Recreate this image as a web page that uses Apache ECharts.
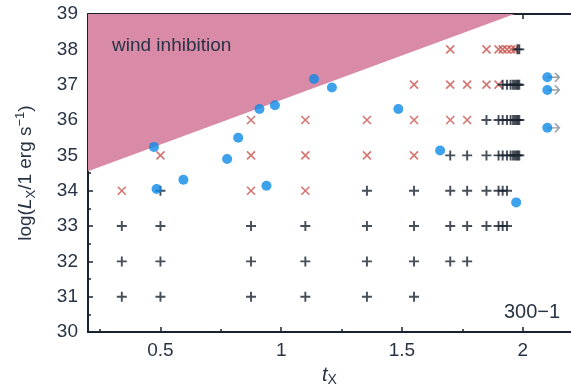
<!DOCTYPE html>
<html>
<head>
<meta charset="utf-8">
<script src="https://cdn.jsdelivr.net/npm/echarts@6/dist/echarts.min.js"></script>
<style>html,body{margin:0;padding:0;background:#fff}#c{width:571px;height:392px}</style>
</head>
<body>
<div id="c"></div>
<script>
// ---- data ----
const xMajorTicks = [0.5, 1, 1.5, 2];
const xMinorTicks = [0.25, 0.75, 1.25, 1.75];
const windBoundary = [[0.2, 34.55], [1.966, 39]];

const plusRows = [
  [31, [0.34, 0.5, 0.875, 1.1, 1.355, 1.55]],
  [32, [0.34, 0.5, 0.875, 1.1, 1.355, 1.55, 1.7, 1.77]],
  [33, [0.34, 0.5, 0.875, 1.1, 1.355, 1.55, 1.7, 1.77, 1.85, 1.9, 1.917, 1.935]],
  [34, [0.5, 1.355, 1.55, 1.7, 1.77, 1.85, 1.9, 1.917, 1.935]],
  [35, [1.7, 1.77, 1.85, 1.9, 1.917, 1.935, 1.95, 1.96, 1.968, 1.975, 1.98, 1.986]],
  [36, [1.85, 1.9, 1.917, 1.935, 1.95, 1.96, 1.968, 1.975, 1.98, 1.986]],
  [37, [1.917, 1.935, 1.95, 1.96, 1.968, 1.975, 1.98, 1.986]],
  [38, [1.978, 1.986]]
];
const crossRows = [
  [34, [0.34, 0.875, 1.1]],
  [35, [0.5, 0.875, 1.1, 1.355, 1.55]],
  [36, [0.875, 1.1, 1.355, 1.55, 1.7, 1.77]],
  [37, [1.55, 1.7, 1.77, 1.85, 1.9]],
  [38, [1.7, 1.85, 1.9, 1.917, 1.935, 1.953, 1.969]]
];
const detections = [
  [0.473, 35.24], [0.484, 34.05], [0.595, 34.31], [0.776, 34.9], [0.822, 35.5],
  [0.91, 36.31], [0.974, 36.42], [0.939, 34.14], [1.136, 37.16], [1.21, 36.92],
  [1.485, 36.31], [1.658, 35.14], [1.973, 33.67]
];
const lowerLimits = [[2.102, 37.21], [2.102, 36.85], [2.102, 35.78]];

// ---- build ----
const flat = rows => rows.flatMap(([y, xs]) => xs.map(x => [x, y]));
const ink = '#18232f';
const txt = '#283445';
const font = '"Liberation Sans", Arial, sans-serif';
const axisLine = {show: true, onZero: false, lineStyle: {color: ink, width: 2}};

const chart = echarts.init(document.getElementById('c'), null, {renderer: 'canvas'});
chart.setOption({
  animation: false,
  backgroundColor: '#fff',
  textStyle: {fontFamily: font},
  grid: {left: 88, top: 14, width: 491, height: 321},
  xAxis: [
    {type: 'value', min: 0.2, max: 2.2, position: 'bottom', axisLine,
     axisTick: {inside: true, length: 5, customValues: xMajorTicks, lineStyle: {color: ink, width: 1.5}},
     axisLabel: {customValues: xMajorTicks, fontSize: 19, color: txt, margin: 9, fontFamily: font},
     splitLine: {show: false},
     name: '{i|t}{s|X}', nameLocation: 'middle', nameGap: 30,
     nameTextStyle: {rich: {
       i: {fontSize: 20, fontStyle: 'italic', color: txt, fontFamily: font, lineHeight: 24, verticalAlign: 'middle'},
       s: {fontSize: 14, color: txt, fontFamily: font, lineHeight: 13, verticalAlign: 'bottom'}}}},
    {type: 'value', min: 0.2, max: 2.2, position: 'bottom', axisLine: {show: false},
     axisTick: {inside: true, length: 3, customValues: xMinorTicks, lineStyle: {color: ink, width: 1.5}},
     axisLabel: {show: false}, splitLine: {show: false}},
    {type: 'value', min: 0.2, max: 2.2, position: 'top', axisLine,
     axisTick: {inside: true, length: 5, customValues: xMajorTicks, lineStyle: {color: ink, width: 1.5}},
     axisLabel: {show: false}, splitLine: {show: false}},
    {type: 'value', min: 0.2, max: 2.2, position: 'top', axisLine: {show: false},
     axisTick: {inside: true, length: 3, customValues: xMinorTicks, lineStyle: {color: ink, width: 1.5}},
     axisLabel: {show: false}, splitLine: {show: false}}
  ],
  yAxis: [{
    type: 'value', min: 30, max: 39, interval: 1, axisLine,
    axisTick: {inside: true, length: 5, lineStyle: {color: ink, width: 1.5}},
    minorTick: {show: true, splitNumber: 2, length: 3, lineStyle: {color: ink, width: 1.5}},
    axisLabel: {fontSize: 19, color: txt, margin: 10, fontFamily: font},
    splitLine: {show: false},
    name: '{n|log(}{i|L}{s|X}{n|/1 erg s}{p|−1}{n|)}', nameLocation: 'middle', nameGap: 50, nameRotate: 90,
    nameTextStyle: {rich: {
      n: {fontSize: 19, color: txt, fontFamily: font, lineHeight: 24, verticalAlign: 'middle'},
      i: {fontSize: 19, fontStyle: 'italic', color: txt, fontFamily: font, lineHeight: 24, verticalAlign: 'middle'},
      s: {fontSize: 13, color: txt, fontFamily: font, lineHeight: 13, verticalAlign: 'bottom'},
      p: {fontSize: 13, color: txt, fontFamily: font, lineHeight: 13, verticalAlign: 'top'}}}
  }],
  series: [
    {type: 'line', data: windBoundary, showSymbol: false, silent: true, z: 1,
     lineStyle: {width: 0}, areaStyle: {origin: 'end', color: '#d98aa7', opacity: 1}},
    {type: 'scatter', data: flat(crossRows), symbol: 'path://M0,0L10,10M10,0L0,10', symbolSize: 8,
     itemStyle: {color: 'none', borderColor: '#c9534d', borderWidth: 1.6}, z: 3},
    {type: 'scatter', data: flat(plusRows), symbol: 'path://M0,5L10,5M5,0L5,10', symbolSize: 10,
     itemStyle: {color: 'none', borderColor: ink, borderWidth: 1.9}, z: 3},
    {type: 'scatter', data: lowerLimits, symbol: 'path://M0,4L11,4M7,0L11,4L7,8', symbolSize: [12, 9],
     symbolOffset: [6, 0], itemStyle: {color: 'none', borderColor: '#7d8790', borderWidth: 1.5}, z: 4},
    {type: 'scatter', data: detections.concat(lowerLimits), symbol: 'circle', symbolSize: 10,
     itemStyle: {color: '#0e8ae6'}, z: 5}
  ],
  graphic: [
    {type: 'text', left: 112, top: 36, z: 10,
     style: {text: 'wind inhibition', font: '19px ' + font, fill: txt}},
    {type: 'text', left: 504, top: 302, z: 10,
     style: {text: '300−1', font: '20px ' + font, fill: txt}}
  ]
});
</script>
</body>
</html>
